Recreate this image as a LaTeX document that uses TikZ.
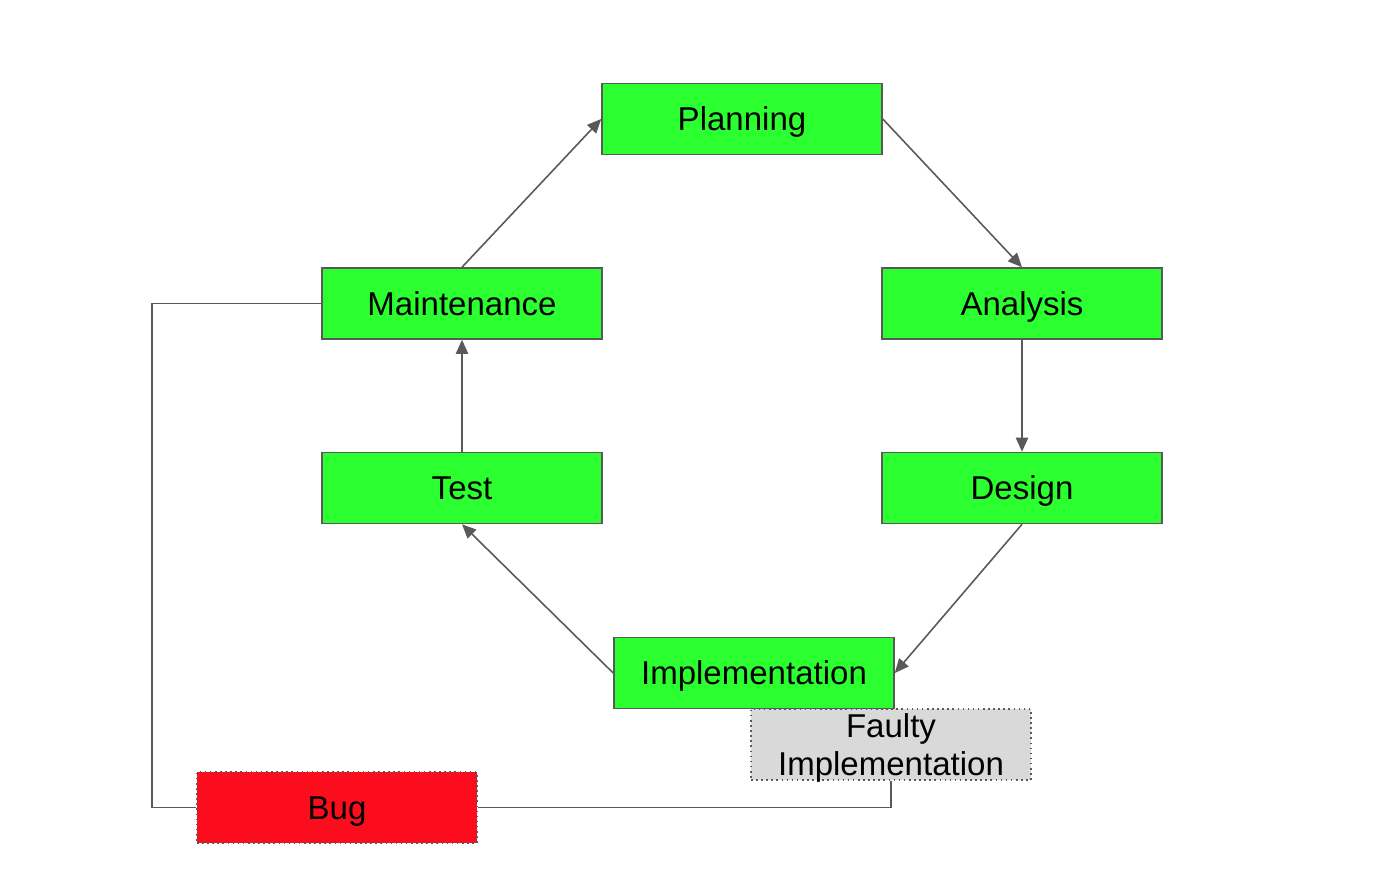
\documentclass[tikz,border=0pt]{standalone}
\usepackage{fontspec}
\setmainfont{Liberation Sans}
\usetikzlibrary{arrows.meta}
\definecolor{boxgreen}{HTML}{2BFF2F}
\definecolor{bugred}{HTML}{FC0D1E}
\definecolor{faultgray}{HTML}{D9D9D9}
\definecolor{linegray}{HTML}{595959}
\tikzset{
  stage/.style={draw=linegray, line width=0.9pt, fill=boxgreen, minimum width=280*0.02cm, minimum height=71*0.02cm, inner sep=0pt, font=\fontsize{18.8}{21}\selectfont, text height=13.5pt, text depth=0pt},
  dotbox/.style={draw=linegray, line width=0.9pt, dotted, minimum width=280*0.02cm, minimum height=71*0.02cm, inner sep=0pt, font=\fontsize{18.8}{22}\selectfont, align=center},
  conn/.style={draw=linegray, line width=0.9pt},
  arr/.style={conn, -{Triangle[length=8pt,width=7pt]}}
}
\begin{document}
\begin{tikzpicture}[x=0.02cm, y=-0.02cm]
\useasboundingbox (0,0) rectangle (1400,892);
\node[stage] (plan) at (742,119) {Planning};
\node[stage] (maint) at (462,303.5) {Maintenance};
\node[stage] (anal) at (1022,303.5) {Analysis};
\node[stage] (test) at (462,488) {Test};
\node[stage] (design) at (1022,488) {Design};
\node[stage] (impl) at (754,673) {Implementation};
\node[dotbox, fill=faultgray, text height=35.5pt, text depth=0pt] (faulty) at (891,744.5) {Faulty\\Implementation};
\node[dotbox, fill=bugred, text height=13.5pt, text depth=0pt] (bug) at (337,807.5) {Bug};
\draw[arr] (maint.north) -- (plan.west);
\draw[arr] (plan.east) -- (anal.north);
\draw[arr] (anal.south) -- (design.north);
\draw[arr] (design.south) -- (impl.east);
\draw[arr] (impl.west) -- (test.south);
\draw[arr] (test.north) -- (maint.south);
\coordinate (c1) at (152,303.5);
\coordinate (c2) at (152,807.5);
\coordinate (c3) at (891,807.5);
\draw[conn] (maint.west) -- (c1) -- (c2) -- (bug.west);
\draw[conn] (bug.east) -- (c3) -- (faulty.south);
\end{tikzpicture}
\end{document}
